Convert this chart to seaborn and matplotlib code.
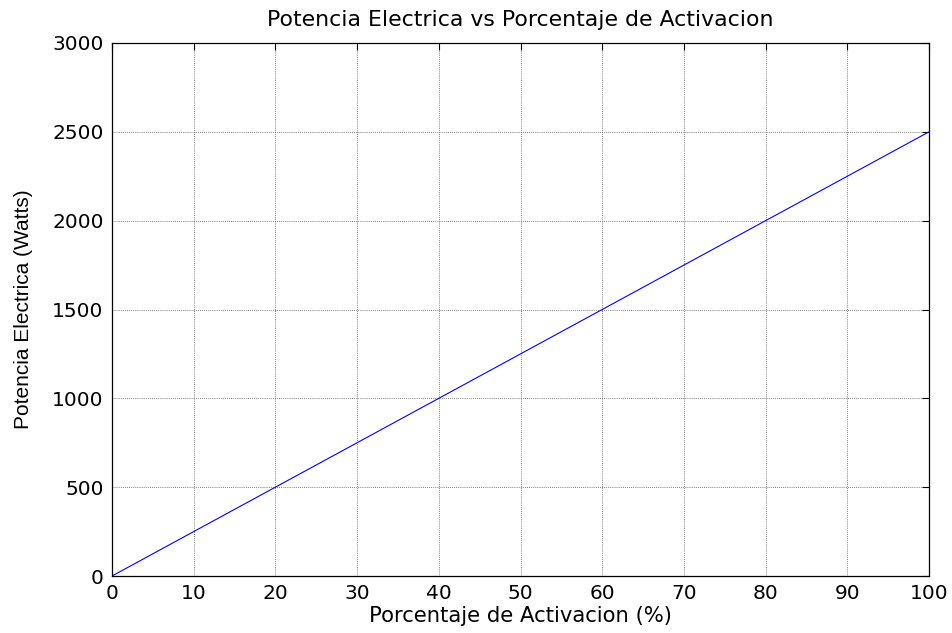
import matplotlib
matplotlib.use("Agg")
import matplotlib.pyplot as plt
import seaborn as sns
import pandas as pd

# Activation percentage and resulting electrical power
activacion = [0, 100]
potencia = [0, 2500]

x_ticks = [0, 10, 20, 30, 40, 50, 60, 70, 80, 90, 100]
y_ticks = [0, 500, 1000, 1500, 2000, 2500, 3000]

sns.set_style("white")
plt.rcParams['font.family'] = ['DejaVu Sans']
plt.rcParams['text.color'] = 'black'
plt.rcParams['axes.labelcolor'] = 'black'

df = pd.DataFrame({"activacion": activacion, "potencia": potencia})

fig = plt.figure(figsize=(9.53, 6.33), dpi=100)
ax = fig.add_axes([112 / 953, 1 - 576 / 633, (929 - 112) / 953, (576 - 43) / 633])

sns.lineplot(data=df, x="activacion", y="potencia", ax=ax, color="#0000ff",
             linewidth=0.8)

ax.set_xlim(0, 100)
ax.set_ylim(0, 3000)
ax.set_xticks(x_ticks)
ax.set_yticks(y_ticks)
ax.tick_params(direction="in", length=5, width=0.8, top=True, right=True,
               labelsize=14.5, colors="black")
ax.tick_params(axis="x", pad=6)
ax.tick_params(axis="y", pad=6)
ax.grid(True, linestyle=(0, (1, 1.5)), color="#555555", linewidth=0.6)
for s in ax.spines.values():
    s.set_color("black")
    s.set_linewidth(0.9)

ax.set_xlabel("Porcentaje de Activacion (%)", fontsize=15.2, va="top",
              color="black")
ax.xaxis.set_label_coords(0.5, -0.057)
ax.set_ylabel("Potencia Electrica (Watts)", fontsize=15, color="black",
              family=["Liberation Sans", "DejaVu Sans"])
ax.yaxis.set_label_coords(-0.097, 0.5)
ax.set_title("Potencia Electrica vs Porcentaje de Activacion", fontsize=15.8,
             pad=12, color="black")

fig.savefig("out.png", dpi=100)
